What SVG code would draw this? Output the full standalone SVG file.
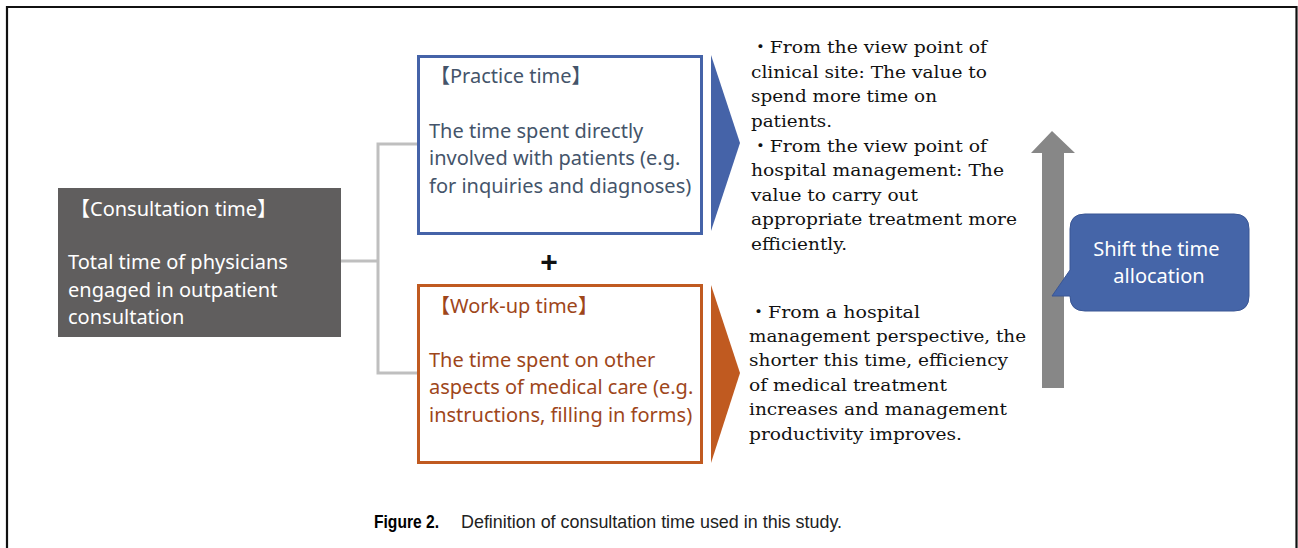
<svg xmlns="http://www.w3.org/2000/svg" width="1298" height="548" viewBox="0 0 1298 548">
  <style>
    .sans { font-family: "Noto Sans", "Open Sans", "Noto Sans CJK JP", sans-serif; font-size: 20px; }
    .serif { font-family: "DejaVu Serif", "Liberation Serif", "Noto Sans CJK JP", serif; font-size: 17.5px; fill: #111; }
    .conn { fill: none; stroke: #bfbfbf; stroke-width: 3; }
  </style>
  <rect width="1298" height="548" fill="#fff"/>
  <!-- figure frame -->
  <path d="M7,548 V7 H1296.5 V548" fill="none" stroke="#111" stroke-width="2.2"/>

  <!-- connectors -->
  <g id="connectors">
    <path class="conn" d="M341,261 H378 M418,144 H378 V373 H418"/>
  </g>

  <g id="consultation">
    <rect x="58" y="188" width="283" height="149" fill="#605e5e"/>
    <text class="sans" fill="#fff" x="70" y="216">【Consultation time】</text>
    <text class="sans" fill="#fff">
      <tspan x="68" y="269">Total time of physicians</tspan>
      <tspan x="68" y="297">engaged in outpatient</tspan>
      <tspan x="68" y="324">consultation</tspan>
    </text>
  </g>

  <g id="practice">
    <rect x="418.5" y="56.5" width="283" height="177" fill="#fff" stroke="#4563a8" stroke-width="3"/>
    <text class="sans" fill="#44546a" x="430" y="83">【Practice time】</text>
    <text class="sans" fill="#44546a">
      <tspan x="429" y="138">The time spent directly</tspan>
      <tspan x="429" y="165">involved with patients (e.g.</tspan>
      <tspan x="429" y="193">for inquiries and diagnoses)</tspan>
    </text>
    <polygon points="711,55 740,143 711,231" fill="#4563a8"/>
  </g>

  <g id="plus">
    <text x="549" y="272" text-anchor="middle" font-family="Liberation Sans, sans-serif" font-size="30" font-weight="bold" fill="#111">+</text>
  </g>

  <g id="workup">
    <rect x="418.5" y="285.5" width="283" height="177" fill="#fff" stroke="#c05a20" stroke-width="3"/>
    <text class="sans" fill="#9e461a" x="430" y="313">【Work-up time】</text>
    <text class="sans" fill="#9e461a">
      <tspan x="429" y="367">The time spent on other</tspan>
      <tspan x="429" y="394">aspects of medical care (e.g.</tspan>
      <tspan x="429" y="422">instructions, filling in forms)</tspan>
    </text>
    <polygon points="711,285 740,373 711,463" fill="#c05a20"/>
  </g>

  <g id="practice-notes" class="serif">
    <text x="751" y="53" textLength="236" lengthAdjust="spacingAndGlyphs">・From the view point of</text>
    <text x="751" y="78" textLength="236" lengthAdjust="spacingAndGlyphs">clinical site: The value to</text>
    <text x="751" y="102" textLength="186" lengthAdjust="spacingAndGlyphs">spend more time on</text>
    <text x="751" y="127" textLength="81" lengthAdjust="spacingAndGlyphs">patients.</text>
    <text x="751" y="152" textLength="236" lengthAdjust="spacingAndGlyphs">・From the view point of</text>
    <text x="751" y="176" textLength="253" lengthAdjust="spacingAndGlyphs">hospital management: The</text>
    <text x="751" y="201" textLength="167" lengthAdjust="spacingAndGlyphs">value to carry out</text>
    <text x="751" y="225" textLength="266" lengthAdjust="spacingAndGlyphs">appropriate treatment more</text>
    <text x="751" y="250" textLength="96" lengthAdjust="spacingAndGlyphs">efficiently.</text>
  </g>

  <g id="workup-notes" class="serif">
    <text x="749" y="318" textLength="171" lengthAdjust="spacingAndGlyphs">・From a hospital</text>
    <text x="749" y="342" textLength="277" lengthAdjust="spacingAndGlyphs">management perspective, the</text>
    <text x="749" y="366" textLength="259" lengthAdjust="spacingAndGlyphs">shorter this time, efficiency</text>
    <text x="749" y="391" textLength="198" lengthAdjust="spacingAndGlyphs">of medical treatment</text>
    <text x="749" y="415" textLength="258" lengthAdjust="spacingAndGlyphs">increases and management</text>
    <text x="749" y="440" textLength="213" lengthAdjust="spacingAndGlyphs">productivity improves.</text>
  </g>

  <g id="shift-arrow">
    <polygon points="1052,131 1075,153 1064,153 1064,388 1042,388 1042,153 1031,153" fill="#878787"/>
  </g>

  <g id="shift-callout">
    <path d="M1085,214 H1234 Q1249,214 1249,229 V296 Q1249,311 1234,311 H1085 Q1070,311 1070,296 L1052,296 L1070,270 V229 Q1070,214 1085,214 Z" fill="#4565a8" stroke="#3a5694" stroke-width="1"/>
    <text class="sans" fill="#fff" text-anchor="middle">
      <tspan x="1159" y="256">Shift the time</tspan>
      <tspan x="1159" y="283">allocation</tspan>
    </text>
  </g>

  <g id="caption">
    <text x="374" y="528" font-family="Liberation Sans Narrow, Liberation Sans, sans-serif" font-weight="bold" font-size="19" textLength="65" lengthAdjust="spacingAndGlyphs" fill="#000">Figure 2.</text>
    <text x="461" y="528" font-family="Liberation Sans, Arial, sans-serif" font-size="19" textLength="381" lengthAdjust="spacingAndGlyphs" fill="#222">Definition of consultation time used in this study.</text>
  </g>
</svg>
